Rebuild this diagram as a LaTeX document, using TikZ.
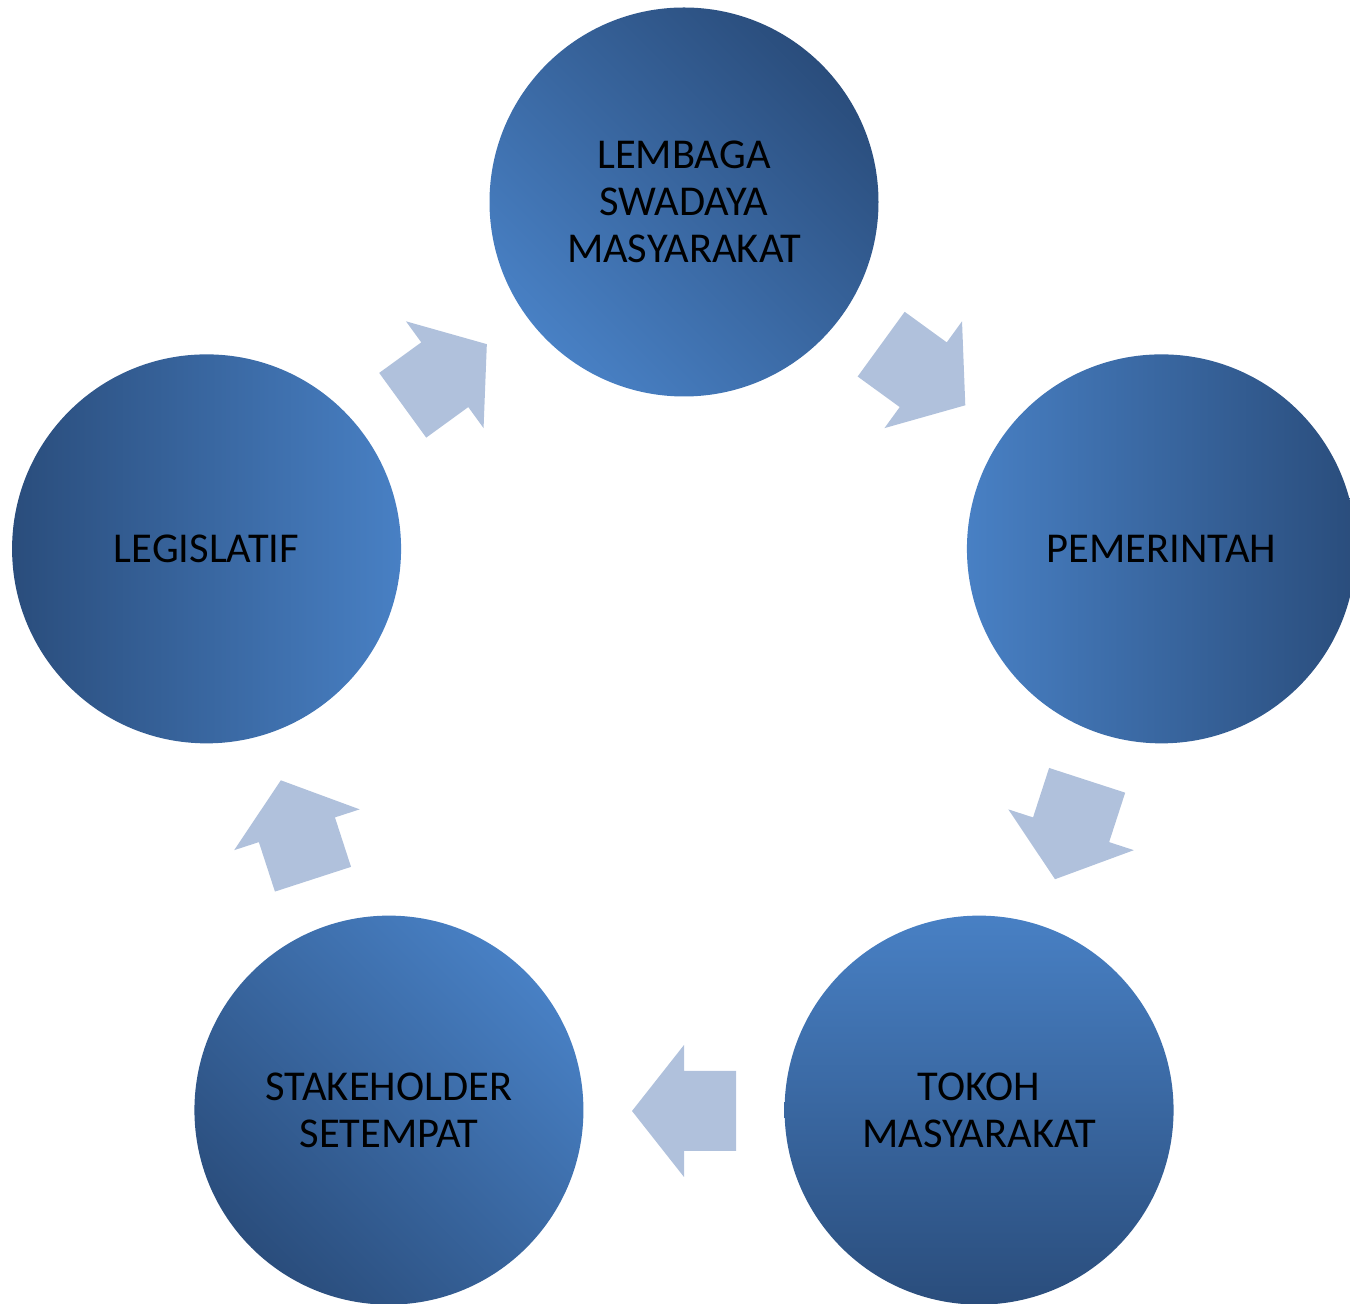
\documentclass[tikz,border=0pt]{standalone}
\usepackage{fontspec}
\setmainfont{Carlito}
\usetikzlibrary{calc}
\definecolor{clight}{RGB}{72,128,196}
\definecolor{cdark}{RGB}{42,77,124}
\definecolor{arrowfill}{RGB}{176,193,220}
\begin{document}
\begin{tikzpicture}[x=1pt,y=1pt,
  circ/.style={circle, minimum size=389pt, inner sep=0pt, align=center,
    font=\fontsize{42.5}{47}\selectfont, text=black},
  shadedir/.style={top color=cdark, bottom color=clight, shading angle=#1},
  blockarrow/.pic={\fill[arrowfill] (-52,-40) -- (0,-40) -- (0,-66) -- (52,0) -- (0,66) -- (0,40) -- (-52,40) -- cycle;}
]
\useasboundingbox (0,0) rectangle (1350,1304);
\coordinate (O) at (684,600);
% arrows
\foreach \a in {54,-18,-90,-162,126}{
  \pic[rotate=\a-90] at ($(O)+(\a:407)$) {blockarrow};
}
% circles
\node[circ, shadedir=-45] (lsm) at ($(O)+(90:502)$) {LEMBAGA\\SWADAYA\\MASYARAKAT};
\node[circ, shadedir=-90] (pem) at ($(O)+(18:502)$) {PEMERINTAH};
\node[circ, shadedir=180] (tok) at ($(O)+(-54:502)$) {TOKOH\\MASYARAKAT};
\node[circ, shadedir=135] (stk) at ($(O)+(-126:502)$) {STAKEHOLDER\\SETEMPAT};
\node[circ, shadedir=90] (leg) at ($(O)+(162:502)$) {LEGISLATIF};
\end{tikzpicture}
\end{document}
